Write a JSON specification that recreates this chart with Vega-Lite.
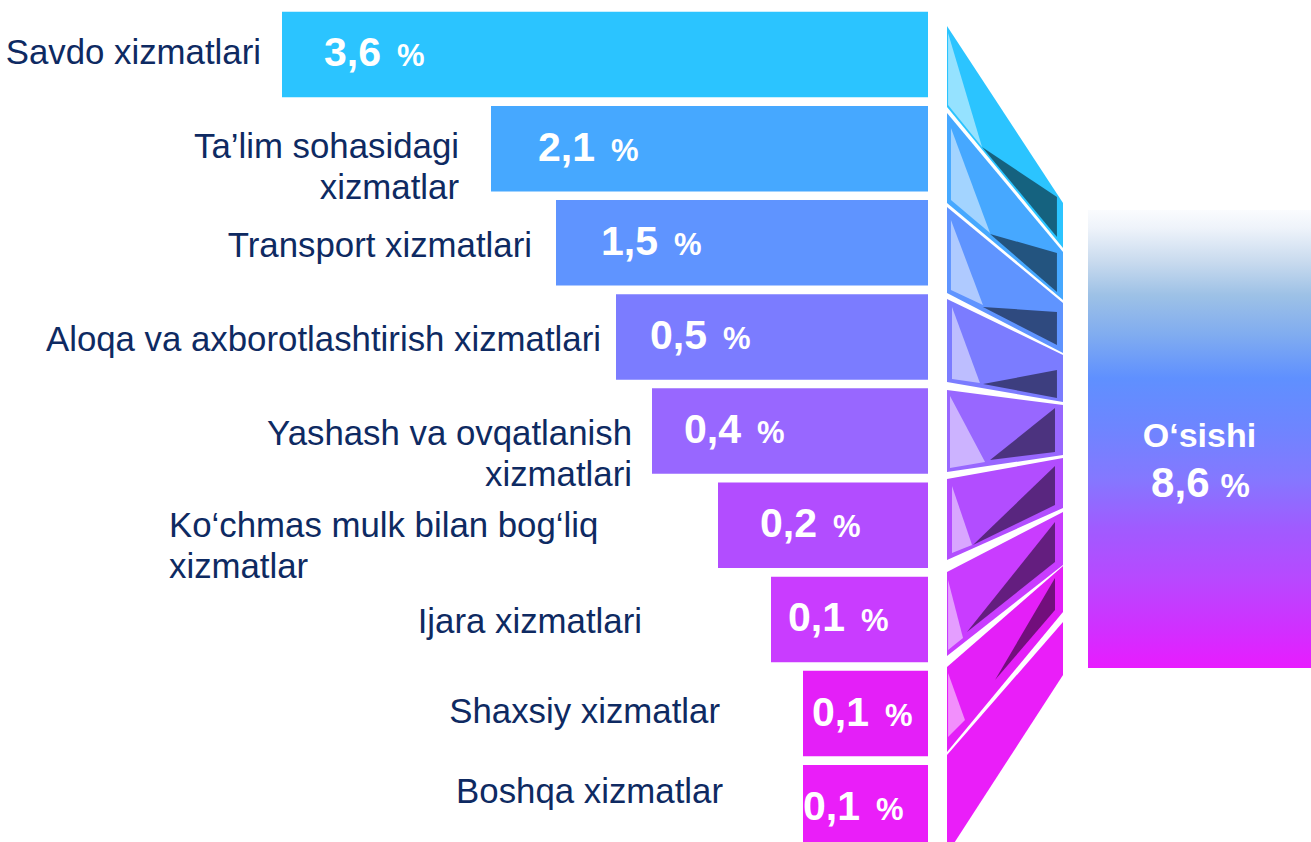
{
  "$schema": "https://vega.github.io/schema/vega-lite/v6.json",
  "width": 1311,
  "height": 842,
  "padding": 0,
  "autosize": {"type": "none"},
  "background": "white",
  "config": {
    "view": {"stroke": null},
    "font": "Liberation Sans",
    "scale": {"continuousPadding": 0},
    "locale": {"number": {"decimal": ",", "thousands": " ", "grouping": [3], "currency": ["", ""]}}
  },
  "datasets": {
    "items": [
      {"row": 1, "label": "Savdo xizmatlari", "value": 3.6},
      {"row": 2, "label": "Ta’lim sohasidagi\nxizmatlar", "value": 2.1},
      {"row": 3, "label": "Transport xizmatlari", "value": 1.5},
      {"row": 4, "label": "Aloqa va axborotlashtirish xizmatlari", "value": 0.5},
      {"row": 5, "label": "Yashash va ovqatlanish\nxizmatlari", "value": 0.4},
      {"row": 6, "label": "Ko‘chmas mulk bilan bog‘liq\nxizmatlar", "value": 0.2},
      {"row": 7, "label": "Ijara xizmatlari", "value": 0.1},
      {"row": 8, "label": "Shaxsiy xizmatlar", "value": 0.1},
      {"row": 9, "label": "Boshqa xizmatlar", "value": 0.1}
    ],
    "ribbon": [
      {"row": 1, "part": "base", "s": 0, "top": 0.697, "bot": 1.558},
      {"row": 1, "part": "base", "s": 1, "top": 2.577, "bot": 3.055},
      {"row": 2, "part": "base", "s": 0, "top": 1.621, "bot": 2.577},
      {"row": 2, "part": "base", "s": 1, "top": 3.098, "bot": 3.607},
      {"row": 3, "part": "base", "s": 0, "top": 2.620, "bot": 3.533},
      {"row": 3, "part": "base", "s": 1, "top": 3.639, "bot": 4.170},
      {"row": 4, "part": "base", "s": 0, "top": 3.597, "bot": 4.478},
      {"row": 4, "part": "base", "s": 1, "top": 4.192, "bot": 4.691},
      {"row": 5, "part": "base", "s": 0, "top": 4.563, "bot": 5.434},
      {"row": 5, "part": "base", "s": 1, "top": 4.723, "bot": 5.254},
      {"row": 6, "part": "base", "s": 0, "top": 5.509, "bot": 6.369},
      {"row": 6, "part": "base", "s": 1, "top": 5.286, "bot": 5.817},
      {"row": 7, "part": "base", "s": 0, "top": 6.496, "bot": 7.389},
      {"row": 7, "part": "base", "s": 1, "top": 5.859, "bot": 6.422},
      {"row": 8, "part": "base", "s": 0, "top": 7.505, "bot": 8.408},
      {"row": 8, "part": "base", "s": 1, "top": 6.433, "bot": 6.921},
      {"row": 9, "part": "base", "s": 0, "top": 8.440, "bot": 9.492},
      {"row": 9, "part": "base", "s": 1, "top": 7.028, "bot": 7.590},
      {"row": 1, "part": "light", "s": 0.009, "top": 0.772, "bot": 1.536},
      {"row": 1, "part": "light", "s": 0.302, "top": 1.982, "bot": 1.982},
      {"row": 2, "part": "light", "s": 0.034, "top": 1.781, "bot": 2.545},
      {"row": 2, "part": "light", "s": 0.371, "top": 2.896, "bot": 2.896},
      {"row": 3, "part": "light", "s": 0.034, "top": 2.758, "bot": 3.501},
      {"row": 3, "part": "light", "s": 0.310, "top": 3.661, "bot": 3.661},
      {"row": 4, "part": "light", "s": 0.043, "top": 3.682, "bot": 4.447},
      {"row": 4, "part": "light", "s": 0.284, "top": 4.489, "bot": 4.489},
      {"row": 5, "part": "light", "s": 0.026, "top": 4.627, "bot": 5.392},
      {"row": 5, "part": "light", "s": 0.328, "top": 5.328, "bot": 5.328},
      {"row": 6, "part": "light", "s": 0.043, "top": 5.583, "bot": 6.295},
      {"row": 6, "part": "light", "s": 0.216, "top": 6.210, "bot": 6.210},
      {"row": 7, "part": "light", "s": 0.009, "top": 6.581, "bot": 7.325},
      {"row": 7, "part": "light", "s": 0.138, "top": 7.197, "bot": 7.197},
      {"row": 8, "part": "light", "s": 0.009, "top": 7.569, "bot": 8.249},
      {"row": 8, "part": "light", "s": 0.155, "top": 8.068, "bot": 8.068},
      {"row": 1, "part": "dark", "s": 0.302, "top": 1.982, "bot": 1.982},
      {"row": 1, "part": "dark", "s": 0.948, "top": 2.514, "bot": 2.938},
      {"row": 2, "part": "dark", "s": 0.371, "top": 2.906, "bot": 2.906},
      {"row": 2, "part": "dark", "s": 0.948, "top": 3.108, "bot": 3.522},
      {"row": 3, "part": "dark", "s": 0.310, "top": 3.682, "bot": 3.682},
      {"row": 3, "part": "dark", "s": 0.948, "top": 3.735, "bot": 4.085},
      {"row": 4, "part": "dark", "s": 0.310, "top": 4.500, "bot": 4.500},
      {"row": 4, "part": "dark", "s": 0.948, "top": 4.351, "bot": 4.648},
      {"row": 5, "part": "dark", "s": 0.371, "top": 5.307, "bot": 5.307},
      {"row": 5, "part": "dark", "s": 0.931, "top": 4.755, "bot": 5.222},
      {"row": 6, "part": "dark", "s": 0.224, "top": 6.210, "bot": 6.210},
      {"row": 6, "part": "dark", "s": 0.931, "top": 5.371, "bot": 5.785},
      {"row": 7, "part": "dark", "s": 0.172, "top": 7.134, "bot": 7.134},
      {"row": 7, "part": "dark", "s": 0.931, "top": 5.965, "bot": 6.390},
      {"row": 8, "part": "dark", "s": 0.414, "top": 7.644, "bot": 7.644},
      {"row": 8, "part": "dark", "s": 0.931, "top": 6.560, "bot": 6.900}
    ],
    "total": [{"label": "O‘sishi", "value": 8.6}]
  },
  "resolve": {"scale": {"x": "independent"}},
  "layer": [
    {
      "data": {"name": "items"},
      "mark": {"type": "bar", "orient": "horizontal", "size": 85.5},
      "encoding": {
        "y": {"field": "row", "type": "quantitative", "scale": {"domain": [0.42114, 9.36431], "reverse": true, "nice": false, "zero": false, "padding": 0}, "axis": null},
        "x": {"field": "row", "type": "quantitative", "scale": {"domain": [0, 1, 2, 3, 4, 5, 6, 7, 8, 9], "range": [928, 282, 491, 556, 616, 652, 718, 771, 803, 803], "nice": false, "zero": false, "padding": 0}, "axis": null},
        "x2": {"datum": 0},
        "color": {"field": "row", "type": "ordinal", "scale": {"domain": [1, 2, 3, 4, 5, 6, 7, 8, 9], "range": ["#2BC4FF", "#46A8FF", "#5F94FF", "#7B7CFF", "#9867FF", "#B24DFF", "#C93CFF", "#E41FF8", "#EA1EF9"]}, "legend": null}
      }
    },
    {
      "data": {"name": "items"},
      "encoding": {
        "x": {"field": "row", "type": "quantitative", "scale": {"domain": [1, 2, 3, 4, 5, 6, 7, 8, 9], "range": [261, 459, 532, 601, 632, 169, 642, 720, 723], "nice": false, "zero": false}, "axis": null},
        "y": {"field": "row", "type": "quantitative", "scale": {"domain": [0.42114, 9.36431], "reverse": true, "nice": false, "zero": false, "padding": 0}, "axis": null},
        "text": {"field": "label", "type": "nominal"}
      },
      "layer": [
        {
          "transform": [{"filter": "datum.row == 1 || datum.row == 2 || datum.row == 8"}],
          "mark": {"type": "text", "align": "right", "baseline": "alphabetic", "dy": 9.5, "fontSize": 34.8, "lineHeight": 41, "lineBreak": "\n", "color": "#0E2A62", "font": "Liberation Sans"}
        },
        {
          "transform": [{"filter": "datum.row == 3 || datum.row == 4 || datum.row == 5 || datum.row == 7"}],
          "mark": {"type": "text", "align": "right", "baseline": "alphabetic", "dy": 14, "fontSize": 34.8, "lineHeight": 41, "lineBreak": "\n", "color": "#0E2A62", "font": "Liberation Sans"}
        },
        {
          "transform": [{"filter": "datum.row == 9"}],
          "mark": {"type": "text", "align": "right", "baseline": "alphabetic", "dy": -5, "fontSize": 34.8, "lineHeight": 41, "lineBreak": "\n", "color": "#0E2A62", "font": "Liberation Sans"}
        },
        {
          "transform": [{"filter": "datum.row == 6"}],
          "mark": {"type": "text", "align": "left", "baseline": "alphabetic", "dy": 12, "fontSize": 34.8, "lineHeight": 41, "lineBreak": "\n", "color": "#0E2A62", "font": "Liberation Sans"}
        }
      ]
    },
    {
      "data": {"name": "items"},
      "encoding": {
        "x": {"field": "row", "type": "quantitative", "scale": {"domain": [1, 2, 3, 4, 5, 6, 7, 8, 9], "range": [324, 538, 601, 650, 684, 760, 788, 812, 803], "nice": false, "zero": false}, "axis": null},
        "y": {"field": "row", "type": "quantitative", "scale": {"domain": [0.42114, 9.36431], "reverse": true, "nice": false, "zero": false, "padding": 0}, "axis": null}
      },
      "layer": [
        {
          "mark": {"type": "text", "align": "left", "baseline": "alphabetic", "dy": 12, "fontSize": 41, "fontWeight": "bold", "color": "white", "font": "Liberation Sans"},
          "encoding": {"text": {"field": "value", "type": "quantitative", "format": ".1f"}}
        },
        {
          "mark": {"type": "text", "align": "left", "baseline": "alphabetic", "dx": 73, "dy": 12, "fontSize": 31, "fontWeight": "bold", "color": "white", "font": "Liberation Sans", "text": "%"}
        }
      ]
    },
    {
      "layer": [
        {
          "data": {"name": "ribbon"},
          "transform": [{"filter": "datum.part == 'base'"}],
          "mark": {"type": "area", "orient": "vertical", "interpolate": "linear"},
          "encoding": {
            "x": {"field": "s", "type": "quantitative", "scale": {"domain": [0, 1, 2, 3], "range": [947, 1063, 1088, 1311], "nice": false, "zero": false}, "axis": null},
            "y": {"field": "top", "type": "quantitative", "scale": {"domain": [0.42114, 9.36431], "reverse": true, "nice": false, "zero": false, "padding": 0}, "axis": null},
            "y2": {"field": "bot"},
            "detail": {"field": "row", "type": "nominal"},
            "color": {"field": "row", "type": "ordinal", "scale": {"domain": [1, 2, 3, 4, 5, 6, 7, 8, 9], "range": ["#2BC4FF", "#46A8FF", "#5F94FF", "#7B7CFF", "#9867FF", "#B24DFF", "#C93CFF", "#E41FF8", "#EA1EF9"]}, "legend": null}
          }
        },
        {
          "data": {"name": "ribbon"},
          "transform": [{"filter": "datum.part == 'light'"}],
          "mark": {"type": "area", "orient": "vertical", "interpolate": "linear", "color": "white", "opacity": 0.5},
          "encoding": {
            "x": {"field": "s", "type": "quantitative", "axis": null},
            "y": {"field": "top", "type": "quantitative", "scale": {"domain": [0.42114, 9.36431], "reverse": true, "nice": false, "zero": false, "padding": 0}, "axis": null},
            "y2": {"field": "bot"},
            "detail": {"field": "row", "type": "nominal"}
          }
        },
        {
          "data": {"name": "ribbon"},
          "transform": [{"filter": "datum.part == 'dark'"}],
          "mark": {"type": "area", "orient": "vertical", "interpolate": "linear", "color": "black", "opacity": 0.5},
          "encoding": {
            "x": {"field": "s", "type": "quantitative", "axis": null},
            "y": {"field": "top", "type": "quantitative", "scale": {"domain": [0.42114, 9.36431], "reverse": true, "nice": false, "zero": false, "padding": 0}, "axis": null},
            "y2": {"field": "bot"},
            "detail": {"field": "row", "type": "nominal"}
          }
        },
        {
          "data": {"name": "total"},
          "mark": {
            "type": "rect",
            "color": {
              "gradient": "linear", "x1": 0, "y1": 0, "x2": 0, "y2": 1,
              "stops": [
                {"offset": 0, "color": "#FAFCFE"},
                {"offset": 0.04, "color": "#EEF3FA"},
                {"offset": 0.114, "color": "#C8DAEE"},
                {"offset": 0.186, "color": "#9DC1E6"},
                {"offset": 0.273, "color": "#80ACF0"},
                {"offset": 0.367, "color": "#5F90FF"},
                {"offset": 0.476, "color": "#6E85FF"},
                {"offset": 0.585, "color": "#8478FF"},
                {"offset": 0.694, "color": "#A05BFF"},
                {"offset": 0.803, "color": "#B749FF"},
                {"offset": 0.913, "color": "#D030FF"},
                {"offset": 1, "color": "#E81CFF"}
              ]
            }
          },
          "encoding": {
            "x": {"datum": 2, "type": "quantitative", "axis": null},
            "x2": {"datum": 3},
            "y": {"datum": 2.6516, "type": "quantitative", "scale": {"domain": [0.42114, 9.36431], "reverse": true, "nice": false, "zero": false, "padding": 0}, "axis": null},
            "y2": {"datum": 7.5162}
          }
        },
        {
          "data": {"name": "total"},
          "mark": {"type": "text", "align": "center", "baseline": "alphabetic", "fontSize": 34, "fontWeight": "bold", "color": "white", "font": "Liberation Sans"},
          "encoding": {
            "x": {"datum": 2.5, "type": "quantitative", "axis": null},
            "y": {"datum": 5.169, "type": "quantitative", "scale": {"domain": [0.42114, 9.36431], "reverse": true, "nice": false, "zero": false, "padding": 0}, "axis": null},
            "text": {"field": "label", "type": "nominal"}
          }
        },
        {
          "data": {"name": "total"},
          "mark": {"type": "text", "align": "right", "baseline": "alphabetic", "dx": 10, "fontSize": 42, "fontWeight": "bold", "color": "white", "font": "Liberation Sans"},
          "encoding": {
            "x": {"datum": 2.5, "type": "quantitative", "axis": null},
            "y": {"datum": 5.70, "type": "quantitative", "scale": {"domain": [0.42114, 9.36431], "reverse": true, "nice": false, "zero": false, "padding": 0}, "axis": null},
            "text": {"field": "value", "type": "quantitative", "format": ".1f"}
          }
        },
        {
          "data": {"name": "total"},
          "mark": {"type": "text", "align": "left", "baseline": "alphabetic", "dx": 21, "fontSize": 33, "fontWeight": "bold", "color": "white", "font": "Liberation Sans", "text": "%"},
          "encoding": {
            "x": {"datum": 2.5, "type": "quantitative", "axis": null},
            "y": {"datum": 5.70, "type": "quantitative", "scale": {"domain": [0.42114, 9.36431], "reverse": true, "nice": false, "zero": false, "padding": 0}, "axis": null}
          }
        }
      ]
    }
  ]
}
